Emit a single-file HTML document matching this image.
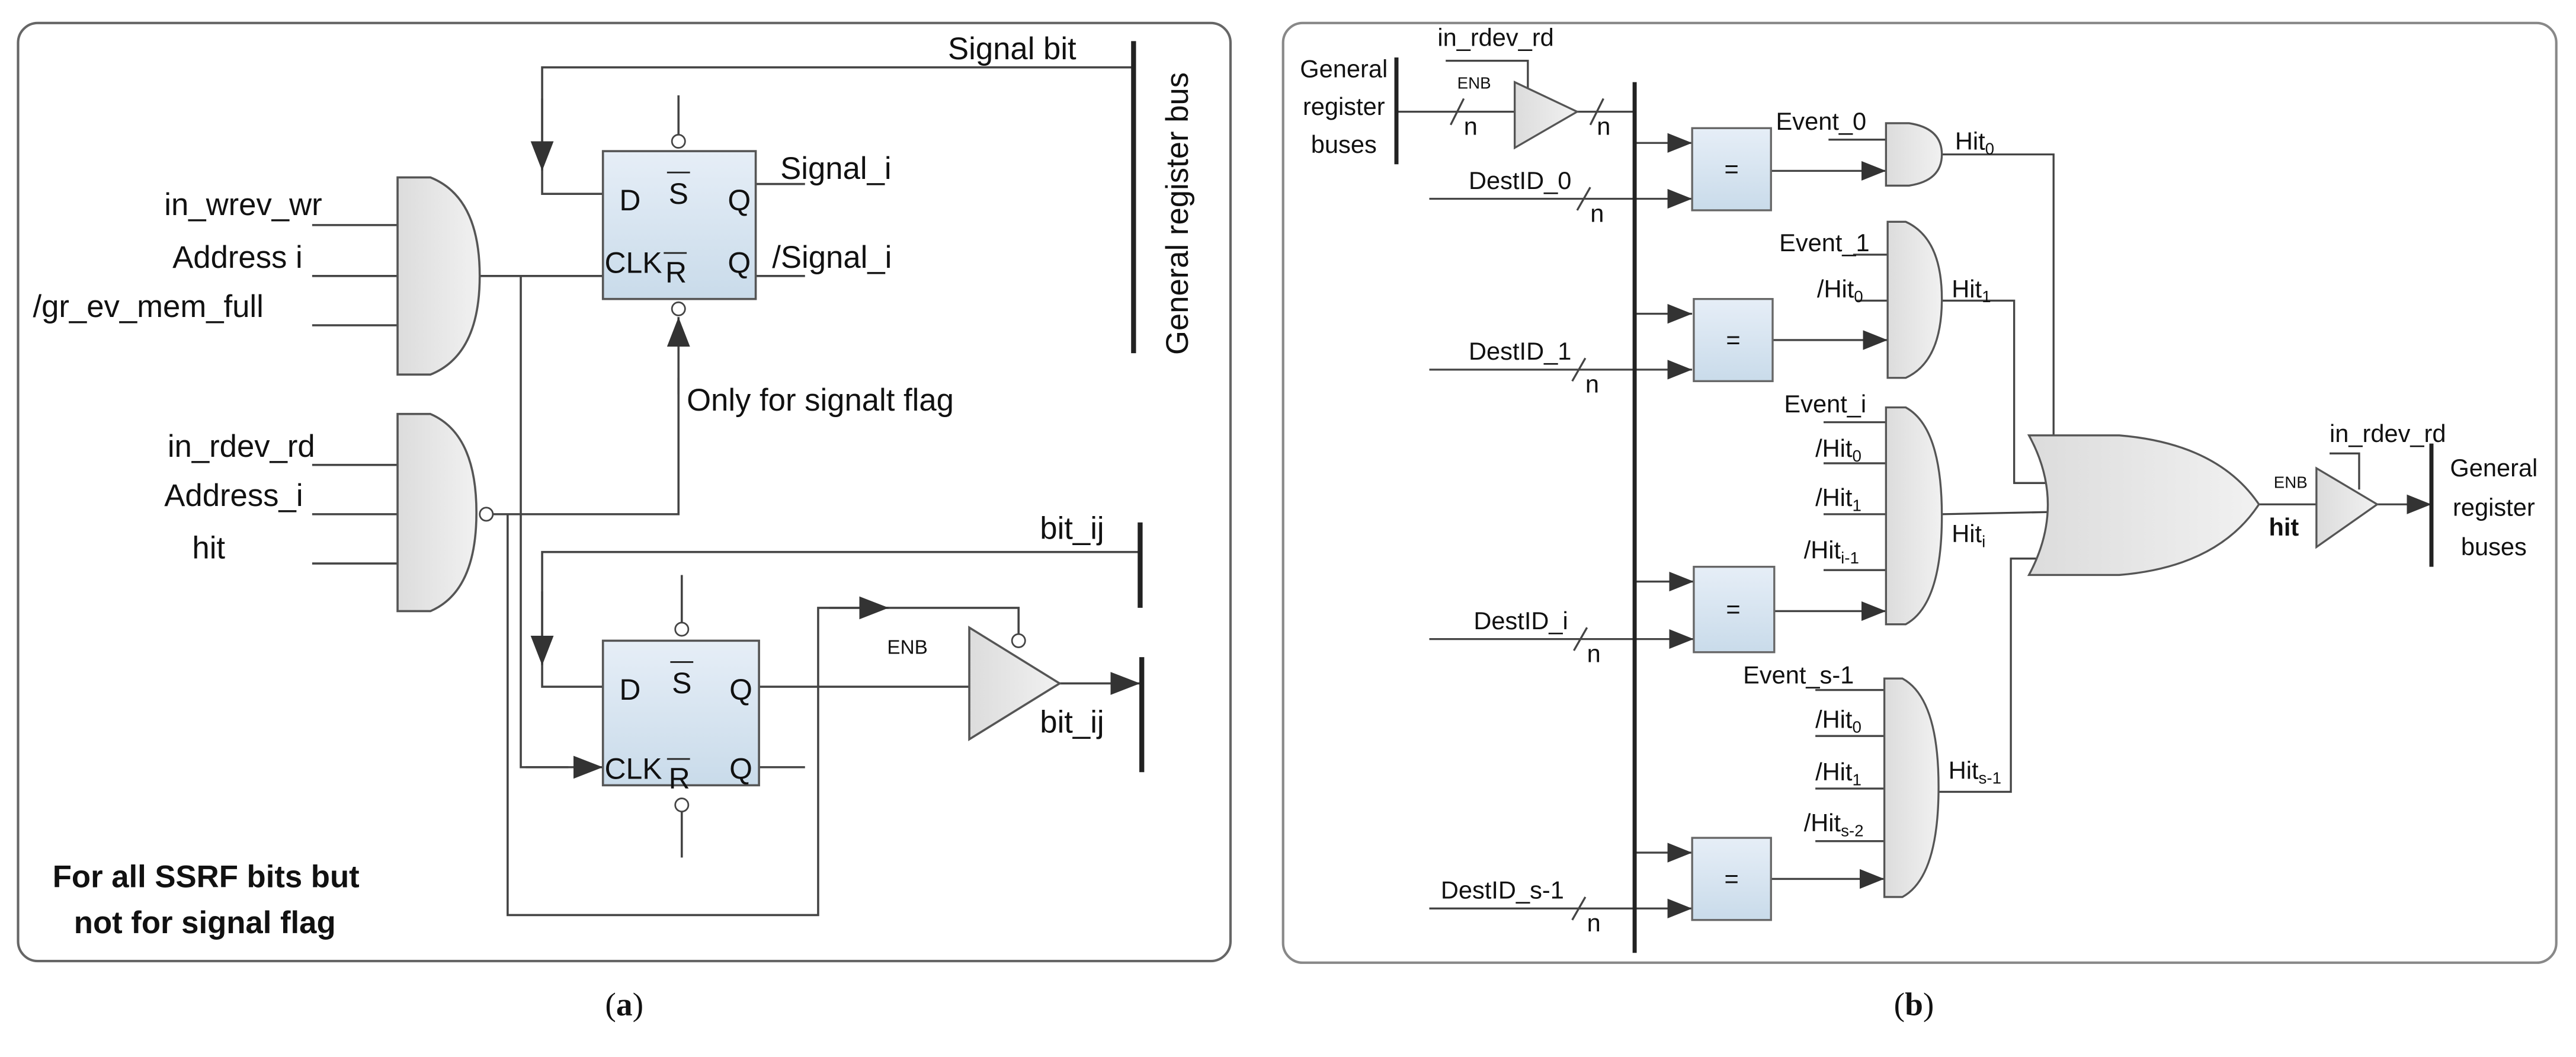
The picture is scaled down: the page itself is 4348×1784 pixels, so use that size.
<!DOCTYPE html>
<html><head><meta charset="utf-8"><style>
html,body{margin:0;padding:0;background:#fff;}
svg{display:block;}
text{font-family:"Liberation Sans",sans-serif;fill:#111;}
</style></head><body>
<svg width="4348" height="1784" viewBox="0 0 1568 643.4" preserveAspectRatio="none" xmlns="http://www.w3.org/2000/svg">
<defs>
<linearGradient id="bl" x1="0" y1="0" x2="0" y2="1"><stop offset="0" stop-color="#e6eef7"/><stop offset="1" stop-color="#c9dbea"/></linearGradient>
<linearGradient id="gr" x1="0" y1="0" x2="1" y2="0"><stop offset="0" stop-color="#dcdcdc"/><stop offset="1" stop-color="#f1f1f1"/></linearGradient>
<marker id="ar" markerUnits="userSpaceOnUse" markerWidth="20" markerHeight="16" refX="18" refY="7" orient="auto"><path d="M0,0 L18,7 L0,14 Z" fill="#333"/></marker>
<marker id="as" markerUnits="userSpaceOnUse" markerWidth="16" markerHeight="14" refX="15" refY="6" orient="auto"><path d="M0,0 L15,6 L0,12 Z" fill="#333"/></marker>
</defs>
<rect x="0" y="0" width="1568" height="643.4" fill="#fff"/>
<rect x="11" y="14" width="738" height="571" rx="12" fill="#fff" stroke="#666" stroke-width="1.5"/>
<rect x="781" y="14" width="775" height="572" rx="12" fill="#fff" stroke="#888" stroke-width="1.5"/>

<g stroke="#444" stroke-width="1.3" fill="none">
<polyline points="690,41 330,41 330,118 367,118" />
<line x1="330" y1="60" x2="330" y2="104" marker-end="url(#ar)"/>
<line x1="413" y1="58" x2="413" y2="82"/>
<line x1="460" y1="112" x2="490" y2="112"/>
<line x1="460" y1="168" x2="490" y2="168"/>
<line x1="190" y1="137" x2="242" y2="137"/><line x1="190" y1="168" x2="242" y2="168"/><line x1="190" y1="198" x2="242" y2="198"/>
<line x1="292" y1="168" x2="367" y2="168"/>
<polyline points="317,168 317,467 346,467"/>
<line x1="320" y1="467" x2="367" y2="467" marker-end="url(#ar)"/>
<line x1="190" y1="283" x2="242" y2="283"/><line x1="190" y1="313" x2="242" y2="313"/><line x1="190" y1="343" x2="242" y2="343"/>
<polyline points="300,313 413,313 413,230"/>
<line x1="413" y1="240" x2="413" y2="193" marker-end="url(#ar)"/>
<polyline points="309,313 309,557 498,557 498,370 620,370 620,386"/>
<line x1="505" y1="370" x2="541" y2="370" marker-end="url(#ar)"/>
<polyline points="694,336 330,336 330,418 367,418"/>
<line x1="330" y1="360" x2="330" y2="405" marker-end="url(#ar)"/>
<line x1="415" y1="350" x2="415" y2="379"/>
<line x1="415" y1="494" x2="415" y2="522"/>
<line x1="462" y1="418" x2="590" y2="418"/>
<line x1="462" y1="467" x2="490" y2="467"/>
<line x1="645" y1="416" x2="694" y2="416" marker-end="url(#ar)"/>
</g>
<g stroke="#222" stroke-width="3">
<line x1="690" y1="25" x2="690" y2="215"/>
<line x1="694" y1="318" x2="694" y2="370"/>
<line x1="695" y1="400" x2="695" y2="470"/>
</g>
<rect x="367" y="92" width="93" height="90" fill="url(#bl)" stroke="#555" stroke-width="1.3"/>
<circle cx="413" cy="86" r="4" fill="#fff" stroke="#444"/>
<circle cx="413" cy="188" r="4" fill="#fff" stroke="#444"/>
<rect x="367" y="390" width="95" height="88" fill="url(#bl)" stroke="#555" stroke-width="1.3"/>
<circle cx="415" cy="383" r="4" fill="#fff" stroke="#444"/>
<circle cx="415" cy="490" r="4" fill="#fff" stroke="#444"/>
<path d="M242,108 L262,108 Q292,120 292,168 Q292,216 262,228 L242,228 Z" fill="url(#gr)" stroke="#555" stroke-width="1.3"/>
<path d="M242,252 L262,252 Q290,264 290,312 Q290,360 262,372 L242,372 Z" fill="url(#gr)" stroke="#555" stroke-width="1.3"/>
<circle cx="296" cy="313" r="4" fill="#fff" stroke="#444"/>
<polygon points="590,382 590,450 645,416" fill="url(#gr)" stroke="#555" stroke-width="1.3"/>
<circle cx="620" cy="390" r="4" fill="#fff" stroke="#444"/>

<g font-size="19">
<text x="577" y="36">Signal bit</text>
<text x="377" y="128" font-size="18">D</text><text x="407" y="124" font-size="18">S</text><line x1="406" y1="105" x2="420" y2="105" stroke="#222"/><text x="443" y="128" font-size="18">Q</text>
<text x="368" y="166" font-size="18">CLK</text><text x="405" y="172" font-size="18">R</text><line x1="404" y1="154" x2="418" y2="154" stroke="#222"/><text x="443" y="166" font-size="18">Q</text>
<text x="475" y="109">Signal_i</text>
<text x="470" y="163">/Signal_i</text>
<text x="100" y="131">in_wrev_wr</text>
<text x="105" y="163">Address i</text>
<text x="20" y="193">/gr_ev_mem_full</text>
<text x="102" y="278">in_rdev_rd</text>
<text x="100" y="308">Address_i</text>
<text x="117" y="340">hit</text>
<text x="418" y="250">Only for signalt flag</text>
<text x="633" y="328">bit_ij</text>
<text x="633" y="446">bit_ij</text>
<text x="377" y="426" font-size="18">D</text><text x="409" y="422" font-size="18">S</text><line x1="408" y1="403" x2="422" y2="403" stroke="#222"/><text x="444" y="426" font-size="18">Q</text>
<text x="368" y="474" font-size="18">CLK</text><text x="407" y="480" font-size="18">R</text><line x1="406" y1="462" x2="420" y2="462" stroke="#222"/><text x="444" y="474" font-size="18">Q</text>
<text x="540" y="398" font-size="12">ENB</text>
<text x="32" y="540" font-weight="bold">For all SSRF bits but</text>
<text x="45" y="568" font-weight="bold">not for signal flag</text>
<text transform="translate(723,130) rotate(-90)" text-anchor="middle">General register bus</text>
</g>
<text x="380" y="618" font-size="20" text-anchor="middle" style="font-family:'Liberation Serif',serif">(<tspan font-weight="bold">a</tspan>)</text>
<text x="1165" y="618" font-size="20" text-anchor="middle" style="font-family:'Liberation Serif',serif">(<tspan font-weight="bold">b</tspan>)</text>

<g stroke="#444" stroke-width="1.2" fill="none">
<line x1="850" y1="68" x2="922" y2="68"/>
<line x1="883" y1="76" x2="891" y2="60"/>
<polyline points="880,37 930,37 930,56"/>
<line x1="960" y1="68" x2="995" y2="68"/>
<line x1="968" y1="76" x2="976" y2="60"/>
<line x1="995" y1="87" x2="1030" y2="87" marker-end="url(#as)"/>
<line x1="870" y1="121" x2="1030" y2="121" marker-end="url(#as)"/>
<line x1="960" y1="128" x2="968" y2="114"/>
<line x1="995" y1="191" x2="1030" y2="191" marker-end="url(#as)"/>
<line x1="870" y1="225" x2="1030" y2="225" marker-end="url(#as)"/>
<line x1="957" y1="232" x2="965" y2="218"/>
<line x1="995" y1="354" x2="1031" y2="354" marker-end="url(#as)"/>
<line x1="870" y1="389" x2="1031" y2="389" marker-end="url(#as)"/>
<line x1="958" y1="396" x2="966" y2="382"/>
<line x1="995" y1="519" x2="1030" y2="519" marker-end="url(#as)"/>
<line x1="870" y1="553" x2="1030" y2="553" marker-end="url(#as)"/>
<line x1="957" y1="560" x2="965" y2="546"/>
<line x1="1078" y1="104" x2="1148" y2="104" marker-end="url(#as)"/>
<line x1="1078" y1="207" x2="1149" y2="207" marker-end="url(#as)"/>
<line x1="1079" y1="372" x2="1148" y2="372" marker-end="url(#as)"/>
<line x1="1078" y1="535" x2="1147" y2="535" marker-end="url(#as)"/>
<line x1="1113" y1="85" x2="1148" y2="85"/>
<line x1="1128" y1="155" x2="1149" y2="155"/><line x1="1130" y1="183" x2="1149" y2="183"/>
<line x1="1110" y1="257" x2="1148" y2="257"/><line x1="1110" y1="282" x2="1148" y2="282"/><line x1="1110" y1="313" x2="1148" y2="313"/><line x1="1110" y1="347" x2="1148" y2="347"/>
<line x1="1105" y1="420" x2="1147" y2="420"/><line x1="1105" y1="448" x2="1147" y2="448"/><line x1="1105" y1="480" x2="1147" y2="480"/><line x1="1105" y1="512" x2="1147" y2="512"/>
<polyline points="1182,94 1250,94 1250,280 1258,280"/>
<line x1="1250" y1="280" x2="1275" y2="280" marker-end="url(#as)"/>
<polyline points="1182,183 1226,183 1226,294 1250,294"/>
<line x1="1226" y1="294" x2="1278" y2="294" marker-end="url(#as)"/>
<line x1="1182" y1="313" x2="1280" y2="311" marker-end="url(#as)"/>
<polyline points="1180,482 1224,482 1224,340 1240,340"/>
<line x1="1224" y1="340" x2="1270" y2="340" marker-end="url(#as)"/>
<line x1="1375" y1="307" x2="1410" y2="307"/>
<polyline points="1418,276 1436,276 1436,298"/>
<line x1="1447" y1="307" x2="1480" y2="307" marker-end="url(#as)"/>
</g>
<g stroke="#222" stroke-width="2.5">
<line x1="850" y1="35" x2="850" y2="100"/>
<line x1="995" y1="50" x2="995" y2="580"/>
<line x1="1480" y1="270" x2="1480" y2="345"/>
</g>
<polygon points="922,50 922,90 960,68" fill="url(#gr)" stroke="#555" stroke-width="1.2"/>
<g fill="url(#bl)" stroke="#666" stroke-width="1.2">
<rect x="1030" y="78" width="48" height="50"/>
<rect x="1031" y="182" width="48" height="50"/>
<rect x="1031" y="345" width="49" height="52"/>
<rect x="1030" y="510" width="48" height="50"/>
</g>
<g fill="url(#gr)" stroke="#555" stroke-width="1.2">
<path d="M1148,75 L1162,75 Q1182,78 1182,94 Q1182,110 1162,113 L1148,113 Z"/>
<path d="M1149,135 L1160,135 Q1182,145 1182,182 Q1182,220 1160,230 L1149,230 Z"/>
<path d="M1148,248 L1160,248 Q1182,260 1182,314 Q1182,368 1160,380 L1148,380 Z"/>
<path d="M1147,413 L1158,413 Q1180,425 1180,479 Q1180,534 1158,546 L1147,546 Z"/>
<path d="M1235,265 L1290,265 Q1350,270 1375,307 Q1350,345 1290,350 L1235,350 Q1258,307 1235,265 Z"/>
<polygon points="1410,285 1410,333 1447,307"/>
</g>
<g font-size="15">
<text x="818" y="47" text-anchor="middle">General</text>
<text x="818" y="70" text-anchor="middle">register</text>
<text x="818" y="93" text-anchor="middle">buses</text>
<text x="875" y="28">in_rdev_rd</text>
<text x="887" y="54" font-size="10">ENB</text>
<text x="891" y="82">n</text><text x="972" y="82">n</text>
<text x="1054" y="108" text-anchor="middle">=</text>
<text x="1055" y="212" text-anchor="middle">=</text>
<text x="1055" y="376" text-anchor="middle">=</text>
<text x="1054" y="540" text-anchor="middle">=</text>
<text x="894" y="115">DestID_0</text><text x="968" y="135">n</text>
<text x="894" y="219">DestID_1</text><text x="965" y="239">n</text>
<text x="897" y="383">DestID_i</text><text x="966" y="403">n</text>
<text x="877" y="547">DestID_s-1</text><text x="966" y="567">n</text>
<text x="1081" y="79">Event_0</text>
<text x="1190" y="91">Hit<tspan font-size="10" dy="3">0</tspan></text>
<text x="1083" y="153">Event_1</text>
<text x="1106" y="181">/Hit<tspan font-size="10" dy="3">0</tspan></text>
<text x="1188" y="181">Hit<tspan font-size="10" dy="3">1</tspan></text>
<text x="1086" y="251">Event_i</text>
<text x="1105" y="278">/Hit<tspan font-size="10" dy="3">0</tspan></text>
<text x="1105" y="308">/Hit<tspan font-size="10" dy="3">1</tspan></text>
<text x="1098" y="340">/Hit<tspan font-size="10" dy="3">i-1</tspan></text>
<text x="1188" y="330">Hit<tspan font-size="10" dy="3">i</tspan></text>
<text x="1061" y="416">Event_s-1</text>
<text x="1105" y="443">/Hit<tspan font-size="10" dy="3">0</tspan></text>
<text x="1105" y="475">/Hit<tspan font-size="10" dy="3">1</tspan></text>
<text x="1098" y="506">/Hit<tspan font-size="10" dy="3">s-2</tspan></text>
<text x="1186" y="474">Hit<tspan font-size="10" dy="3">s-1</tspan></text>
<text x="1418" y="269">in_rdev_rd</text>
<text x="1384" y="297" font-size="10">ENB</text>
<text x="1381" y="326" font-weight="bold">hit</text>
<text x="1518" y="290" text-anchor="middle">General</text>
<text x="1518" y="314" text-anchor="middle">register</text>
<text x="1518" y="338" text-anchor="middle">buses</text>
</g>
</svg>
</body></html>
